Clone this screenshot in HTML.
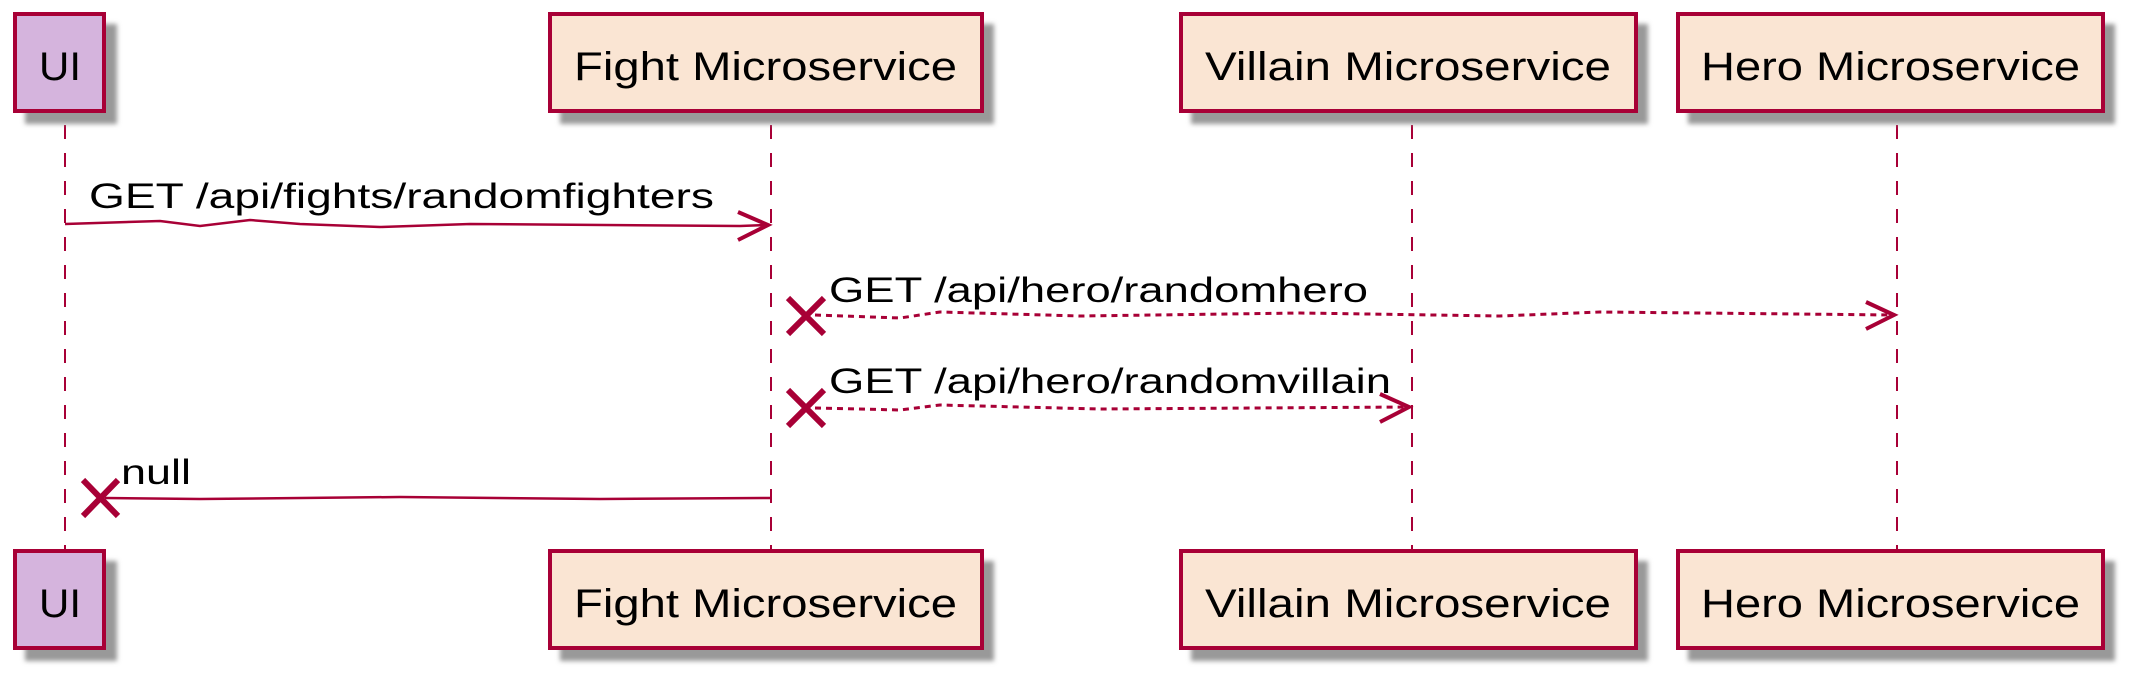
<!DOCTYPE html>
<html><head><meta charset="utf-8"><style>
html,body{margin:0;padding:0;background:#fff;}
svg{display:block;}
text{font-family:"Liberation Sans",sans-serif;fill:#000;}
</style></head><body>
<svg width="2145" height="688" viewBox="0 0 2145 688" xmlns="http://www.w3.org/2000/svg">
<defs>
<filter id="sh" x="-10%" y="-10%" width="130%" height="140%"><feGaussianBlur stdDeviation="2.5"/></filter>
</defs>
<g stroke="#A80036" stroke-width="2" stroke-dasharray="14,14" fill="none">
<line x1="65" y1="125" x2="65" y2="549"/>
<line x1="771" y1="125" x2="771" y2="549"/>
<line x1="1412" y1="125" x2="1412" y2="549"/>
<line x1="1897" y1="125" x2="1897" y2="549"/>
</g>
<g fill="#999" filter="url(#sh)">
<rect x="25" y="24" width="92" height="100"/>
<rect x="560" y="24" width="434" height="100"/>
<rect x="1191" y="24" width="457" height="100"/>
<rect x="1688" y="24" width="427" height="100"/>
<rect x="25" y="561" width="92" height="100"/>
<rect x="560" y="561" width="434" height="100"/>
<rect x="1191" y="561" width="457" height="100"/>
<rect x="1688" y="561" width="427" height="100"/>
</g>
<g stroke="#A80036" stroke-width="4">
<rect x="15" y="14" width="89" height="97" fill="#D5B4DD"/>
<rect x="550" y="14" width="432" height="97" fill="#FAE5D3"/>
<rect x="1181" y="14" width="455" height="97" fill="#FAE5D3"/>
<rect x="1678" y="14" width="425" height="97" fill="#FAE5D3"/>
<rect x="15" y="551" width="89" height="97" fill="#D5B4DD"/>
<rect x="550" y="551" width="432" height="97" fill="#FAE5D3"/>
<rect x="1181" y="551" width="455" height="97" fill="#FAE5D3"/>
<rect x="1678" y="551" width="425" height="97" fill="#FAE5D3"/>
</g>
<g font-size="40">
<text x="39" y="80" textLength="42" lengthAdjust="spacingAndGlyphs">UI</text>
<text x="574" y="80" textLength="383" lengthAdjust="spacingAndGlyphs">Fight Microservice</text>
<text x="1205" y="80" textLength="406" lengthAdjust="spacingAndGlyphs">Villain Microservice</text>
<text x="1701" y="80" textLength="379" lengthAdjust="spacingAndGlyphs">Hero Microservice</text>
<text x="39" y="617" textLength="42" lengthAdjust="spacingAndGlyphs">UI</text>
<text x="574" y="617" textLength="383" lengthAdjust="spacingAndGlyphs">Fight Microservice</text>
<text x="1205" y="617" textLength="406" lengthAdjust="spacingAndGlyphs">Villain Microservice</text>
<text x="1701" y="617" textLength="379" lengthAdjust="spacingAndGlyphs">Hero Microservice</text>
</g>
<g stroke="#A80036" fill="none">
<path d="M65 224 L160 221 L200 226 L250 220 L300 224 L380 227 L470 224 L740 226 L768 225" stroke-width="2.5"/>
<path d="M738 212 L768 225 L738 240" stroke-width="4"/>
<path d="M815 315 L900 318 L940 312 L1080 316 L1300 313 L1500 316 L1600 312 L1894 315" stroke-width="3" stroke-dasharray="6,5"/>
<path d="M1866 302 L1894 315 L1866 329" stroke-width="4"/>
<path d="M815 408 L900 410 L940 405 L1100 409 L1409 407" stroke-width="3" stroke-dasharray="6,5"/>
<path d="M1380 394 L1409 407 L1380 422" stroke-width="4"/>
<path d="M771 498 L600 499 L400 497 L200 499 L105 498" stroke-width="2.5"/>
<path d="M788 298 L824 334 M788 334 L824 298" stroke-width="6"/>
<path d="M788 390 L824 426 M788 426 L824 390" stroke-width="6"/>
<path d="M83 480 L118 516 M83 516 L118 480" stroke-width="6"/>
</g>
<g font-size="35">
<text x="89" y="208" textLength="625" lengthAdjust="spacingAndGlyphs">GET /api/fights/randomfighters</text>
<text x="829" y="302" textLength="539" lengthAdjust="spacingAndGlyphs">GET /api/hero/randomhero</text>
<text x="829" y="393" textLength="562" lengthAdjust="spacingAndGlyphs">GET /api/hero/randomvillain</text>
<text x="121" y="484" textLength="70" lengthAdjust="spacingAndGlyphs">null</text>
</g>
</svg>
</body></html>
